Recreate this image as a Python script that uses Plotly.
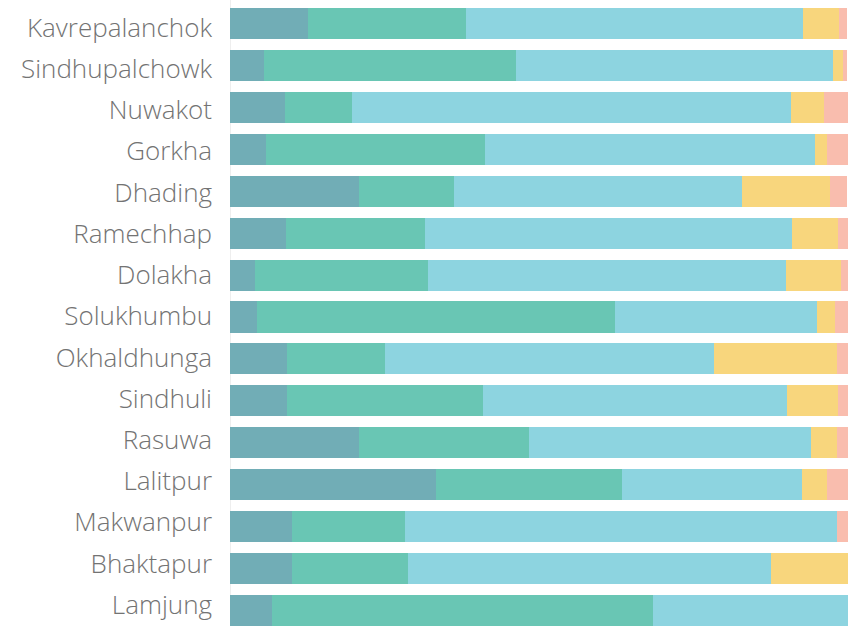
import plotly.graph_objects as go

# Districts, top to bottom
districts = [
    "Kavrepalanchok", "Sindhupalchowk", "Nuwakot", "Gorkha", "Dhading",
    "Ramechhap", "Dolakha", "Solukhumbu", "Okhaldhunga", "Sindhuli",
    "Rasuwa", "Lalitpur", "Makwanpur", "Bhaktapur", "Lamjung",
]

# Share of each group per district (percent)
group_1 = [12.6, 5.5, 8.9, 5.8, 20.9, 9.1, 4.0, 4.4, 9.2, 9.2, 20.9, 33.3, 10.0, 10.0, 6.8]
group_2 = [25.6, 40.8, 10.8, 35.5, 15.3, 22.5, 28.0, 57.9, 15.9, 31.7, 27.5, 30.1, 18.3, 18.8, 61.6]
group_3 = [54.5, 51.3, 71.1, 53.4, 46.6, 59.3, 58.0, 32.7, 53.2, 49.2, 45.6, 29.2, 69.9, 58.7, 31.6]
group_4 = [5.8, 1.6, 5.3, 1.9, 14.3, 7.5, 8.9, 2.9, 19.9, 8.3, 4.2, 4.0, 0.0, 12.5, 0.0]
group_5 = [1.3, 0.6, 3.9, 3.4, 2.7, 1.6, 1.1, 2.1, 1.8, 1.6, 1.8, 3.4, 1.8, 0.0, 0.0]

series = [
    ("Group 1", group_1, "#71adb6"),
    ("Group 2", group_2, "#69c6b4"),
    ("Group 3", group_3, "#8dd4e0"),
    ("Group 4", group_4, "#f8d67d"),
    ("Group 5", group_5, "#f9bdae"),
]

fig = go.Figure()
for name, vals, color in series:
    fig.add_trace(go.Bar(
        name=name, y=districts, x=vals, orientation="h",
        marker=dict(color=color, line=dict(width=0)),
        hovertemplate="%{y}: %{x}%<extra>" + name + "</extra>",
    ))

# Invisible helper trace that carries the district labels on a separate,
# slightly tighter category axis
fig.add_trace(go.Scatter(
    x=[0] * len(districts), y=districts, yaxis="y2", mode="markers",
    marker=dict(opacity=0, size=1), showlegend=False, hoverinfo="skip",
))

label_font = dict(family="Open Sans, sans-serif", size=26, weight=300,
                  color="#737373")

fig.update_layout(
    barmode="stack",
    bargap=0.26,
    width=865, height=626,
    margin=dict(l=230, r=17, t=0, b=0, autoexpand=False),
    paper_bgcolor="white", plot_bgcolor="white",
    showlegend=False,
    font=dict(family="Open Sans, sans-serif", color="#737373"),
    xaxis=dict(range=[0, 100], showgrid=False, showticklabels=False,
               zeroline=True, zerolinecolor="#eeeeee", zerolinewidth=1,
               fixedrange=True, automargin=False),
    yaxis=dict(type="category", categoryorder="array", categoryarray=districts,
               range=[14.37, -0.56], showgrid=False, zeroline=False,
               automargin=False, showticklabels=False, ticks=""),
    yaxis2=dict(type="category", categoryorder="array", categoryarray=districts,
                range=[14.513, -0.667], overlaying="y", side="left",
                anchor="x", showgrid=False, zeroline=False, showline=False,
                automargin=False, ticks="", ticklabelstandoff=17,
                tickfont=label_font),
)

fig.write_html("out.html")
